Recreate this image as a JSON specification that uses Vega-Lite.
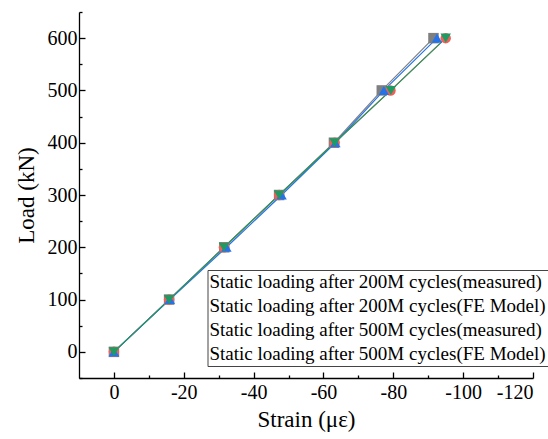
{
  "$schema": "https://vega.github.io/schema/vega-lite/v6.json",
  "width": 454,
  "height": 366,
  "autosize": {"type": "none"},
  "padding": {"left": 79, "top": 12, "right": 15, "bottom": 61},
  "background": "white",
  "config": {
    "view": {"stroke": null},
    "font": "Liberation Serif",
    "axis": {
      "grid": false,
      "domainColor": "black",
      "domainWidth": 1.3,
      "tickColor": "black",
      "tickWidth": 1.3,
      "labelColor": "black",
      "titleColor": "black",
      "labelFont": "Liberation Serif",
      "titleFont": "Liberation Serif",
      "labelFontSize": 20,
      "titleFontSize": 23,
      "titleFontWeight": "normal"
    },
    "legend": {
      "labelFont": "Liberation Serif",
      "labelFontSize": 19,
      "labelColor": "black",
      "labelLimit": 0
    }
  },
  "data": {
    "values": [
      {"series": "Static loading after 200M cycles(measured)", "strain": 0, "load": 0},
      {"series": "Static loading after 200M cycles(measured)", "strain": -15.8, "load": 100},
      {"series": "Static loading after 200M cycles(measured)", "strain": -31.6, "load": 200},
      {"series": "Static loading after 200M cycles(measured)", "strain": -47.3, "load": 300},
      {"series": "Static loading after 200M cycles(measured)", "strain": -63, "load": 400},
      {"series": "Static loading after 200M cycles(measured)", "strain": -76.7, "load": 500},
      {"series": "Static loading after 200M cycles(measured)", "strain": -91.5, "load": 600},
      {"series": "Static loading after 200M cycles(FE Model)", "strain": 0, "load": 0},
      {"series": "Static loading after 200M cycles(FE Model)", "strain": -15.8, "load": 100},
      {"series": "Static loading after 200M cycles(FE Model)", "strain": -31.5, "load": 200},
      {"series": "Static loading after 200M cycles(FE Model)", "strain": -47.3, "load": 300},
      {"series": "Static loading after 200M cycles(FE Model)", "strain": -63.2, "load": 400},
      {"series": "Static loading after 200M cycles(FE Model)", "strain": -79.2, "load": 500},
      {"series": "Static loading after 200M cycles(FE Model)", "strain": -95, "load": 600},
      {"series": "Static loading after 500M cycles(measured)", "strain": 0, "load": 0},
      {"series": "Static loading after 500M cycles(measured)", "strain": -16, "load": 100},
      {"series": "Static loading after 500M cycles(measured)", "strain": -32.2, "load": 200},
      {"series": "Static loading after 500M cycles(measured)", "strain": -48, "load": 300},
      {"series": "Static loading after 500M cycles(measured)", "strain": -63.4, "load": 400},
      {"series": "Static loading after 500M cycles(measured)", "strain": -77.3, "load": 500},
      {"series": "Static loading after 500M cycles(measured)", "strain": -92.5, "load": 600},
      {"series": "Static loading after 500M cycles(FE Model)", "strain": 0, "load": 0},
      {"series": "Static loading after 500M cycles(FE Model)", "strain": -15.8, "load": 100},
      {"series": "Static loading after 500M cycles(FE Model)", "strain": -31.5, "load": 200},
      {"series": "Static loading after 500M cycles(FE Model)", "strain": -47.3, "load": 300},
      {"series": "Static loading after 500M cycles(FE Model)", "strain": -63.2, "load": 400},
      {"series": "Static loading after 500M cycles(FE Model)", "strain": -79.3, "load": 500},
      {"series": "Static loading after 500M cycles(FE Model)", "strain": -95, "load": 600}
    ]
  },
  "layer": [
    {
      "mark": {"type": "line", "strokeWidth": 1.2},
      "encoding": {
        "x": {
          "field": "strain", "type": "quantitative",
          "scale": {"domain": [10, -120], "nice": false, "zero": false},
          "axis": {"values": [0, -20, -40, -60, -80, -100, -120], "tickSize": -6, "labelPadding": 10, "labelExpr": "replace(datum.label, '−', '-')", "title": "Strain (με)", "titlePadding": 6}
        },
        "y": {
          "field": "load", "type": "quantitative",
          "scale": {"domain": [-50, 650], "nice": false, "zero": false},
          "axis": {"values": [0, 100, 200, 300, 400, 500, 600], "tickSize": -6, "labelPadding": 8, "title": "Load (kN)", "titlePadding": 9}
        },
        "color": {
          "field": "series", "type": "nominal",
          "scale": {
            "domain": ["Static loading after 200M cycles(measured)", "Static loading after 200M cycles(FE Model)", "Static loading after 500M cycles(measured)", "Static loading after 500M cycles(FE Model)"],
            "range": ["#7f7f7f", "#f0605a", "#2473e8", "#1f9a62"]
          },
          "legend": {
            "title": null,
            "orient": "none",
            "legendX": 128.5,
            "legendY": 258,
            "symbolSize": 0,
            "symbolOpacity": 0,
            "symbolStrokeWidth": 0,
            "labelOffset": -19,
            "symbolOffset": 0,
            "rowPadding": 4,
            "padding": 2,
            "strokeColor": "#444444",
            "fillColor": "white"
          }
        }
      }
    },
    {
      "mark": {"type": "point", "filled": true, "size": 110, "opacity": 1},
      "encoding": {
        "x": {"field": "strain", "type": "quantitative", "axis": null},
        "y": {"field": "load", "type": "quantitative", "axis": null},
        "color": {"field": "series", "type": "nominal"},
        "shape": {
          "field": "series", "type": "nominal",
          "scale": {
            "domain": ["Static loading after 200M cycles(measured)", "Static loading after 200M cycles(FE Model)", "Static loading after 500M cycles(measured)", "Static loading after 500M cycles(FE Model)"],
            "range": ["square", "circle", "triangle-up", "triangle-down"]
          },
          "legend": null
        }
      }
    },
    {
      "mark": {"type": "point", "opacity": 0},
      "encoding": {
        "x": {
          "field": "strain", "type": "quantitative",
          "axis": {"orient": "bottom", "values": [-10, -30, -50, -70, -90, -110], "tickSize": -3, "labels": false, "domain": false, "title": null}
        },
        "y": {
          "field": "load", "type": "quantitative",
          "axis": {"orient": "left", "values": [-50, 50, 150, 250, 350, 450, 550, 650], "tickSize": -3, "labels": false, "domain": false, "title": null}
        }
      }
    }
  ],
  "resolve": {"axis": {"x": "independent", "y": "independent"}}
}
